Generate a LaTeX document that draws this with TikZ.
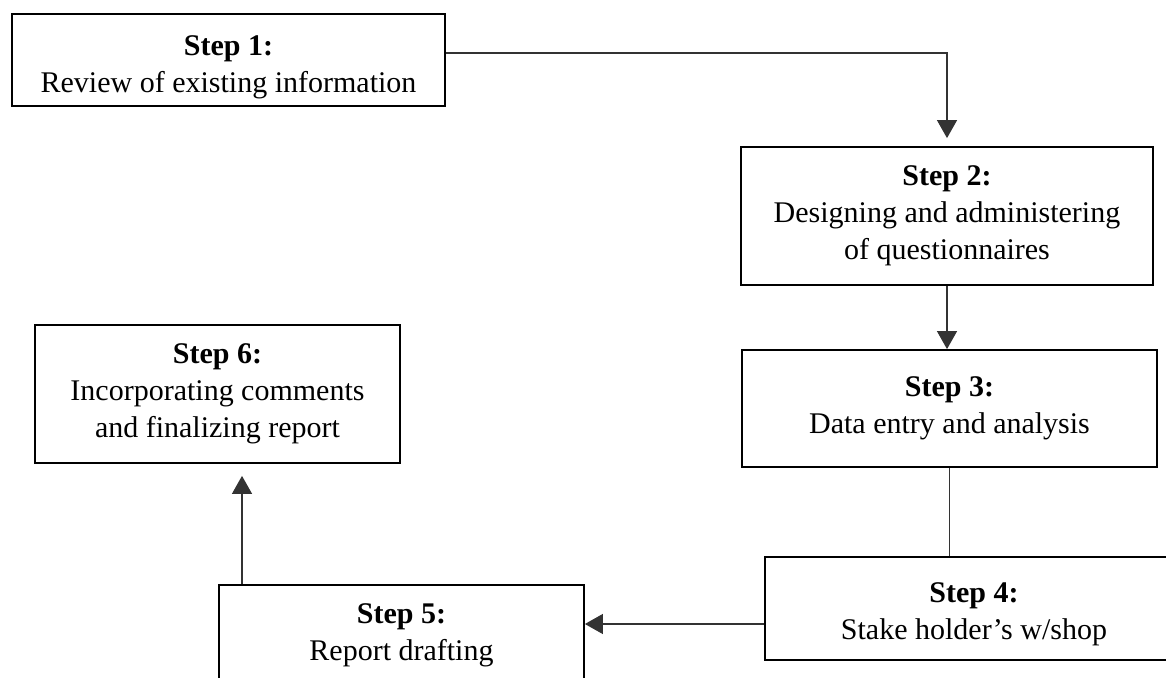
\documentclass[tikz,border=0pt]{standalone}
\usepackage{fontspec}
\setmainfont{Liberation Serif}
\usetikzlibrary{arrows.meta}

\tikzset{
  stepbox/.style={draw, line width=0.9pt, align=center, inner sep=0pt,
    font=\fontsize{15}{18.5}\selectfont},
  link/.style={draw, line width=0.6pt, black!80},
  arr/.style={link, -{Triangle[width=10pt, length=9pt]}},
}

\begin{document}
\begin{tikzpicture}[x=0.5pt, y=-0.5pt]
    \clip (0,0) rectangle (1166,678);
    % boxes
    \node[stepbox, minimum width=216.5pt, minimum height=46pt] (step1) at (228.5, 60)
        {\rule{0pt}{17.5pt}\textbf{Step 1:}\\Review of existing information};
    \node[stepbox, minimum width=206pt, minimum height=69pt] (step2) at (947, 216)
        {\textbf{Step 2:}\\Designing and administering\\of questionnaires};
    \node[stepbox, minimum width=207.5pt, minimum height=58.5pt] (step3) at (949.5, 408.5)
        {\textbf{Step 3:}\\Data entry and analysis};
    \node[stepbox, minimum width=209pt, minimum height=51.5pt] (step4) at (974, 608.5)
        {\rule{0pt}{15.5pt}\textbf{Step 4:}\\Stake holder’s w/shop};
    \node[stepbox, minimum width=182.5pt, minimum height=50pt] (step5) at (401.5, 635)
        {\textbf{Step 5:}\\Report drafting};
    \node[stepbox, minimum width=182.5pt, minimum height=69pt] (step6) at (217.5, 394)
        {\textbf{Step 6:}\\Incorporating comments\\and finalizing report};
    % arrows
    \draw[arr, shorten >=4pt] ([yshift=3.5pt]step1.east) -| (step2.north);
    \draw[arr] (step2.south) -- (step2.south |- step3.north);
    \draw[link] (step3.south) -- (step3.south |- step4.north);
    \draw[arr] ([yshift=-7.75pt]step4.west) coordinate (from4) -- (from4 -| step5.east);
    \draw[arr, shorten >=6pt] ([xshift=-79.75pt]step5.north) coordinate (from5) -- (from5 |- step6.south);
\end{tikzpicture}
\end{document}
